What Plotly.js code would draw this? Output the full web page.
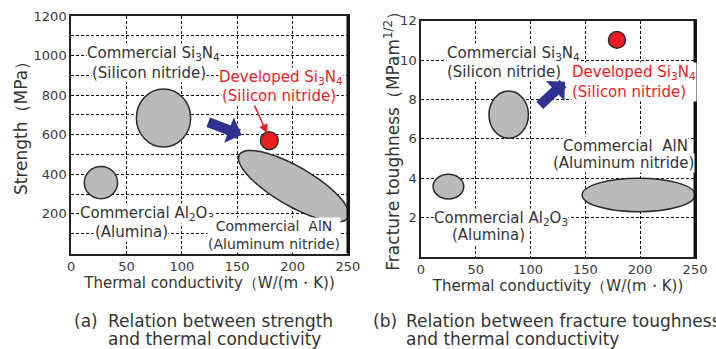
<!DOCTYPE html>
<html><head><meta charset="utf-8">
<script src="https://cdn.plot.ly/plotly-3.0.1.min.js"></script>
<style>html,body{margin:0;padding:0;background:#fff;}#chart{width:716px;height:349px;}</style>
</head><body><div id="chart"></div>
<script>
// ---------- data ----------
const xTicks = [0, 50, 100, 150, 200, 250];
const strengthTicks = [200, 400, 600, 800, 1000, 1200];
const toughTicks = [2, 4, 6, 8, 10, 12];

// (a) strength vs thermal conductivity : [min, max] ranges
const si3n4A_k = [59, 108];   const si3n4A_s = [538, 831];
const devA_k = [171, 187];    const devA_s = [525, 615];
const al2o3A_k = [12, 42];    const al2o3A_s = [277, 439];
// AlN (tilted range): centre, first and second semi-axis vectors
const alnA_center = [201, 340];
const alnA_axis1 = [49, -159];
const alnA_axis2 = [9, 85];

// (b) fracture toughness vs thermal conductivity : [min, max] ranges
const si3n4B_k = [62, 98];    const si3n4B_t = [6.03, 8.43];
const devB_k = [171, 186.5];  const devB_t = [10.6, 11.45];
const al2o3B_k = [11, 39];    const al2o3B_t = [2.95, 4.2];
const alnB_k = [147, 250];    const alnB_t = [2.3, 4.0];

// arrows [tailX, tailY, tipX, tipY]
const arrowA = [122.5, 666, 154, 599];
const pointerA = [165, 755, 177, 607];
const arrowB = [107, 7.63, 131.4, 8.9];

// ---------- style ----------
const FONT = 'DejaVu Sans, Arial, sans-serif';
const TXT = '#333333';
const RED = '#ec1c24';
const GRAY = '#b9babc';
const NAVY = '#2e3192';

function ellipsePath(c, a, b, n) {
  let p = '';
  for (let i = 0; i <= n; i++) {
    const t = 2 * Math.PI * i / n;
    const x = c[0] + a[0] * Math.cos(t) + b[0] * Math.sin(t);
    const y = c[1] + a[1] * Math.cos(t) + b[1] * Math.sin(t);
    p += (i ? 'L' : 'M') + x.toFixed(3) + ',' + y.toFixed(3);
  }
  return p + 'Z';
}
function oval(xr, yr, kx, ky, fill) {
  return {type: 'circle', xref: xr, yref: yr, x0: kx[0], x1: kx[1], y0: ky[0], y1: ky[1],
    fillcolor: fill, line: {color: '#2a2a2a', width: 1.5}, layer: 'above'};
}
function txt(text, x, y, xr, yr, color, size, anchor, align) {
  return {text: text, x: x, y: y, xref: xr, yref: yr, showarrow: false,
    font: {family: FONT, size: size || 15, color: color || TXT},
    bgcolor: xr === 'paper' ? 'rgba(0,0,0,0)' : '#ffffff', borderpad: 0,
    xanchor: anchor || 'center', yanchor: 'middle', align: align || 'center'};
}
function arrow(a, xr, yr, color, width, head, size) {
  return {text: '', x: a[2], y: a[3], ax: a[0], ay: a[1], xref: xr, yref: yr, axref: xr, ayref: yr,
    showarrow: true, arrowhead: head, arrowsize: size, arrowwidth: width, arrowcolor: color, standoff: 0, startstandoff: 0};
}

const axisCommon = {
  showgrid: true, gridcolor: '#111', gridwidth: 1, griddash: '3px,2px',
  zeroline: false, showline: true, linecolor: '#222', linewidth: 1.5, mirror: true,
  ticks: '', tickfont: {family: FONT, size: 13, color: '#3a3a3a'}, fixedrange: true
};
const xTitle = {text: 'Thermal conductivity（W/(m・K))', font: {family: FONT, size: 15, color: TXT}, standoff: 3};

const layout = {
  width: 716, height: 349, margin: {l: 0, r: 0, t: 0, b: 0},
  paper_bgcolor: '#fff', plot_bgcolor: '#fff', showlegend: false,
  xaxis: Object.assign({}, axisCommon, {domain: [0.0992, 0.486], range: [0, 250], tickmode: 'array', tickvals: xTicks, anchor: 'y', title: xTitle}),
  yaxis: Object.assign({}, axisCommon, {domain: [0.2736, 0.9542], range: [0, 1200], tickmode: 'array', tickvals: strengthTicks, anchor: 'x',
    minor: {dtick: 100, tick0: 0, showgrid: true, gridcolor: '#111', gridwidth: 1, griddash: '3px,2px', ticks: ''}}),
  xaxis2: Object.assign({}, axisCommon, {domain: [0.588, 0.9707], range: [0, 250], tickmode: 'array', tickvals: xTicks, anchor: 'y2', title: xTitle}),
  yaxis2: Object.assign({}, axisCommon, {domain: [0.2636, 0.9407], range: [0, 12], tickmode: 'array', tickvals: toughTicks, anchor: 'x2'}),
  shapes: [
    oval('x', 'y', si3n4A_k, si3n4A_s, GRAY),
    oval('x', 'y', al2o3A_k, al2o3A_s, GRAY),
    {type: 'path', xref: 'x', yref: 'y', path: ellipsePath(alnA_center, alnA_axis1, alnA_axis2, 120),
      fillcolor: GRAY, line: {color: '#2a2a2a', width: 1.5}, layer: 'above'},
    oval('x', 'y', devA_k, devA_s, RED),
    oval('x2', 'y2', si3n4B_k, si3n4B_t, GRAY),
    oval('x2', 'y2', al2o3B_k, al2o3B_t, GRAY),
    oval('x2', 'y2', alnB_k, alnB_t, GRAY),
    oval('x2', 'y2', devB_k, devB_t, RED),
    {type: 'line', xref: 'x domain', yref: 'y domain', x0: 1, x1: 1, y0: 0, y1: 1, line: {color: '#111', width: 3}},
    {type: 'line', xref: 'x2 domain', yref: 'y2 domain', x0: 1, x1: 1, y0: 0, y1: 1, line: {color: '#111', width: 3}}
  ],
  annotations: [
    // (a)
    txt('Commercial Si<sub>3</sub>N<sub>4</sub>', 74.6, 1011, 'x', 'y'),
    txt('(Silicon nitride)', 70.8, 913, 'x', 'y'),
    txt('Developed Si<sub>3</sub>N<sub>4</sub>', 189.5, 888, 'x', 'y', RED),
    txt('(Silicon nitride)', 187.7, 796, 'x', 'y', RED),
    txt('Commercial Al<sub>2</sub>O<sub>3</sub>', 68.6, 203, 'x', 'y'),
    txt('(Alumina)', 54.8, 110, 'x', 'y'),
    txt('Commercial  AlN<br>(Aluminum nitride)', 183.5, 96, 'x', 'y', TXT, 14),
    arrow(arrowA, 'x', 'y', NAVY, 10, 1, 0.45),
    arrow(pointerA, 'x', 'y', RED, 1.5, 2, 1.2),
    // (b)
    txt('Commercial Si<sub>3</sub>N<sub>4</sub>', 84.4, 10.35, 'x2', 'y2'),
    txt('(Silicon nitride)', 75.7, 9.38, 'x2', 'y2'),
    txt('Developed Si<sub>3</sub>N<sub>4</sub><br>(Silicon nitride)', 136.6, 8.9, 'x2', 'y2', RED, 15, 'left', 'left'),
    txt('Commercial  AlN', 186.6, 5.65, 'x2', 'y2'),
    txt('(Aluminum nitride)', 184.3, 4.79, 'x2', 'y2'),
    txt('Commercial Al<sub>2</sub>O<sub>3</sub>', 73, 1.97, 'x2', 'y2'),
    txt('(Alumina)', 61.6, 1.12, 'x2', 'y2'),
    arrow(arrowB, 'x2', 'y2', NAVY, 10, 1, 0.45),
    // y-axis titles
    Object.assign(txt('Strength（MPa）', 0.0293, 0.6447, 'paper', 'paper', TXT, 17), {textangle: -90}),
    Object.assign(txt('Fracture toughness（MPam<sup>1/2</sup>）', 0.547, 0.6074, 'paper', 'paper', TXT, 17), {textangle: -90}),
    // captions
    txt('(a)', 0.1024, 0.0811, 'paper', 'paper', TXT, 17, 'left'),
    txt('Relation between strength', 0.149, 0.0811, 'paper', 'paper', TXT, 17, 'left'),
    txt('and thermal conductivity', 0.149, 0.0278, 'paper', 'paper', TXT, 17, 'left'),
    txt('(b)', 0.5191, 0.0811, 'paper', 'paper', TXT, 17, 'left'),
    txt('Relation between fracture toughness', 0.5656, 0.0811, 'paper', 'paper', TXT, 17, 'left'),
    txt('and thermal conductivity', 0.5656, 0.0278, 'paper', 'paper', TXT, 17, 'left')
  ]
};

const data = [
  {type: 'scatter', x: [], y: [], xaxis: 'x', yaxis: 'y', hoverinfo: 'skip'},
  {type: 'scatter', x: [], y: [], xaxis: 'x2', yaxis: 'y2', hoverinfo: 'skip'}
];

Plotly.newPlot('chart', data, layout, {displayModeBar: false});
</script>
</body></html>
